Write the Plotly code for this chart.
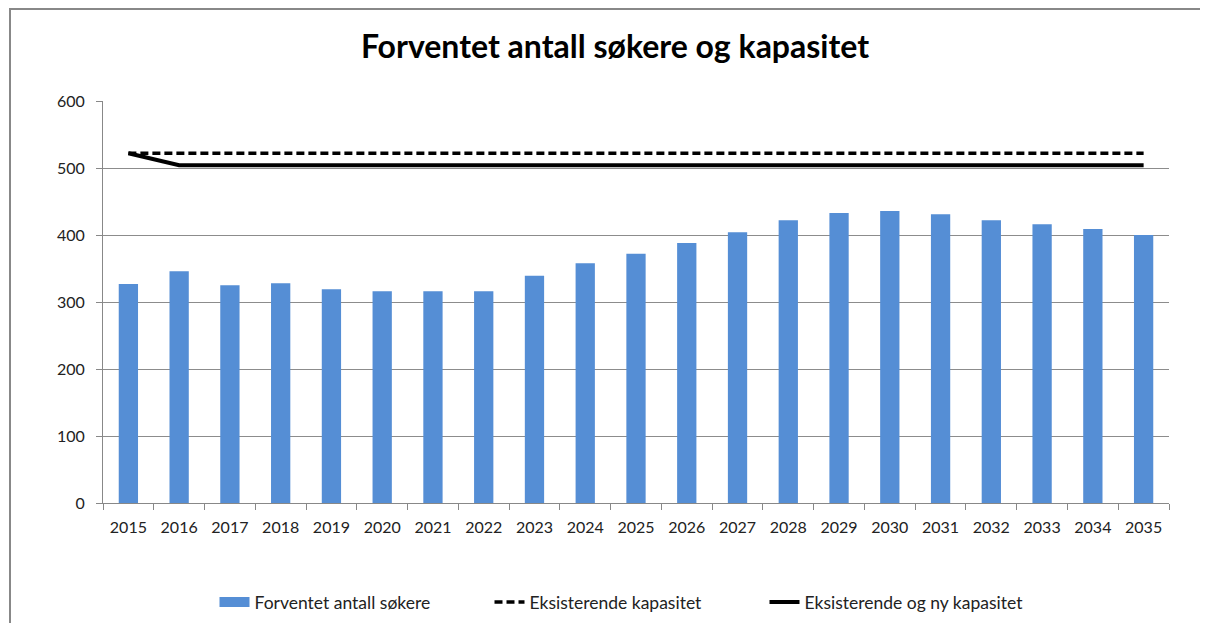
import plotly.graph_objects as go

years = [str(y) for y in range(2015, 2036)]
sokere = [327, 346, 325, 328, 319, 316, 316, 316, 339, 358, 372, 388, 404, 422, 433, 436, 431, 422, 416, 409, 400]
eksisterende = [522] * 21
eksisterende_ny = [522] + [504] * 20
y_ticks = [0, 100, 200, 300, 400, 500, 600]

FONT = "Lato, 'Open Sans', sans-serif"
BAR_COLOR = "#558ED5"

fig = go.Figure()
fig.add_trace(go.Bar(x=years, y=sokere, name="Forventet antall søkere", showlegend=False,
                     marker=dict(color=BAR_COLOR, line=dict(width=0))))
# legend-only entry to mimic the wide rectangle swatch
fig.add_trace(go.Scatter(x=[None], y=[None], name="Forventet antall søkere", mode="lines",
                         line=dict(color=BAR_COLOR, width=12)))
fig.add_trace(go.Scatter(x=years, y=eksisterende, name="Eksisterende kapasitet", mode="lines",
                         line=dict(color="black", width=3.5, dash="8px,4px")))
fig.add_trace(go.Scatter(x=years, y=eksisterende_ny, name="Eksisterende og ny kapasitet", mode="lines",
                         line=dict(color="black", width=4)))

# page body has an 8px margin; compensate so the plot lands where the reference has it
OFF = 8
W, H = 1200, 615
L = 103 - OFF
T = 101 - OFF
R = OFF + W - 1169
B = OFF + H - 503
pw = W - L - R
ph = H - T - B

def px_x(x):
    return (x - OFF - L) / pw

def px_y(y):
    return (OFF + H - B - y) / ph

fig.update_layout(
    width=W, height=H,
    margin=dict(l=L, r=R, t=T, b=B, autoexpand=False),
    paper_bgcolor="white", plot_bgcolor="white",
    title=dict(text="<b>Forventet antall søkere og kapasitet</b>", x=px_x(615), xref="paper", xanchor="center",
               y=1 - (47 - OFF) / H, yanchor="middle", font=dict(family=FONT, size=32, color="black")),
    bargap=0.62,
    font=dict(family=FONT, size=16, color="#222"),
    legend=dict(orientation="h", x=px_x(627), xanchor="center", y=px_y(602), yanchor="middle",
                font=dict(family=FONT, size=17.5, color="#222"), tracegroupgap=0,
                entrywidth=230, entrywidthmode="pixels"),
    xaxis=dict(type="category", showline=True, linecolor="#888", linewidth=1,
               ticks="outside", tickson="boundaries", ticklen=6, tickcolor="#888",
               ticklabelstandoff=10,
               showgrid=False, tickfont=dict(size=16, color="#222")),
    yaxis=dict(range=[0, 600], tickvals=y_ticks, showline=True, linecolor="#888", linewidth=1,
               ticks="outside", ticklen=6, tickcolor="#888", ticklabelstandoff=8,
               showgrid=True, gridcolor="#8c8c8c", gridwidth=1, zeroline=False,
               tickfont=dict(size=16, color="#222")),
    shapes=[dict(type="rect", xref="paper", yref="paper",
                 x0=px_x(10), x1=px_x(1230),
                 y0=px_y(660), y1=px_y(9),
                 line=dict(color="#888", width=2), fillcolor="rgba(0,0,0,0)", layer="below")],
)

fig.write_html("out.html")
